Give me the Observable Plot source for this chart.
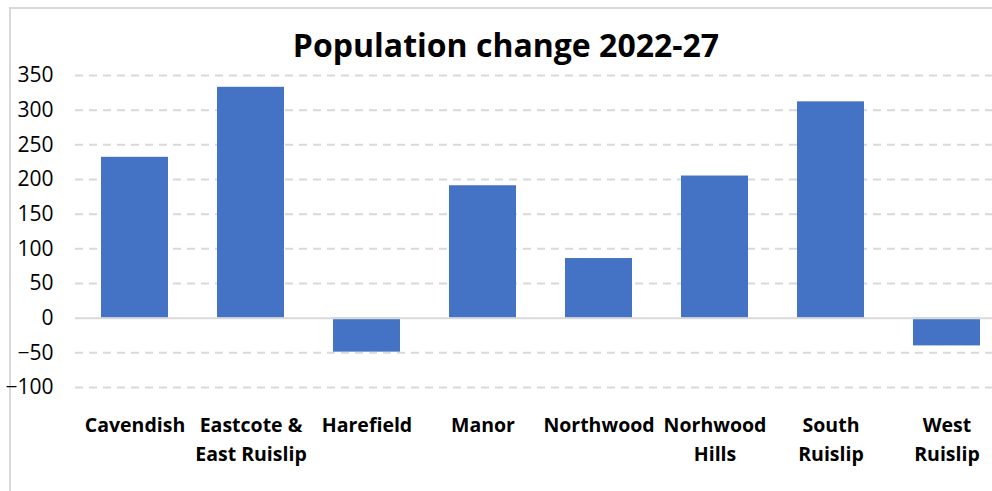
<!DOCTYPE html>
<html><head><meta charset="utf-8">
<script src="https://cdn.jsdelivr.net/npm/d3@7"></script>
<script src="https://cdn.jsdelivr.net/npm/@observablehq/plot@0.6"></script>
<style>
html,body{margin:0;padding:0;background:#fff;}
body{width:992px;height:491px;overflow:hidden;position:relative;font-family:"Open Sans",sans-serif;}
#frame{position:absolute;left:9px;top:7px;width:1200px;height:800px;border:2px solid #d9d9d9;box-sizing:border-box;pointer-events:none;}
#title{position:relative;height:60px;box-sizing:border-box;padding-top:29px;padding-left:20px;text-align:center;font-size:32px;line-height:32px;font-weight:700;color:#000;white-space:nowrap;}
#chart{position:relative;}
</style></head><body>
<div id="frame"></div>
<div id="title">Population change 2022-27</div>
<div id="chart"></div>
<script>
const categories = ["Cavendish", "Eastcote & East Ruislip", "Harefield", "Manor", "Northwood", "Norhwood Hills", "South Ruislip", "West Ruislip"];
const tickLabels = ["Cavendish", "Eastcote &\nEast Ruislip", "Harefield", "Manor", "Northwood", "Norhwood\nHills", "South\nRuislip", "West\nRuislip"];
const values = [232, 333, -49, 191, 86, 205, 312, -40];
const yTicks = [-100, -50, 0, 50, 100, 150, 200, 250, 300, 350];

const gridTicks = yTicks.filter(d => d !== 0);
const data = categories.map((c, i) => ({category: c, value: values[i]}));

const chart = Plot.plot({
  width: 992, height: 431,
  marginTop: 15, marginBottom: 104, marginLeft: 75, marginRight: 0,
  style: {fontFamily: '"Open Sans", sans-serif', background: "transparent", overflow: "visible"},
  x: {domain: categories, range: [75.15, 1005.55], paddingInner: 0.424, paddingOuter: 0.212},
  y: {domain: [-100, 350]},
  marks: [
    Plot.ruleY(gridTicks, {stroke: "#d9d9d9", strokeWidth: 2, strokeDasharray: "8,6"}),
    Plot.barY(data, {x: "category", y: "value", fill: "#4472C4"}),
    Plot.ruleY([0], {stroke: "#d9d9d9", strokeWidth: 2}),
    Plot.axisY({ticks: yTicks, tickSize: 0, tickPadding: 22, fontSize: 21, fill: "#000", label: null}),
    Plot.axisX({tickSize: 0, tickPadding: 24, fontSize: 19.5, fontWeight: 700, lineHeight: 1.49, fill: "#000",
      tickFormat: d => tickLabels[categories.indexOf(d)], label: null})
  ]
});
document.getElementById("chart").appendChild(chart);
</script>
</body></html>
